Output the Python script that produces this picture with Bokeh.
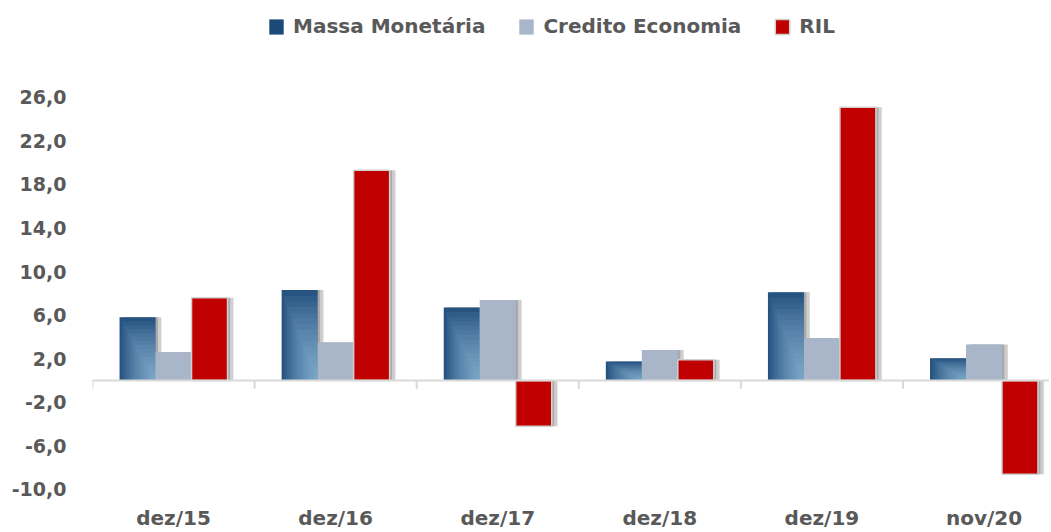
import numpy as np
from bokeh.plotting import figure
from bokeh.models import ColumnDataSource, FixedTicker, Span, Legend, LegendItem
from bokeh.embed import file_html
from bokeh.resources import INLINE

# ---- data ----
categories = ["dez/15", "dez/16", "dez/17", "dez/18", "dez/19", "nov/20"]
massa = [5.8, 8.3, 6.7, 1.75, 8.1, 2.05]
credito = [2.6, 3.5, 7.4, 2.8, 3.9, 3.3]
ril = [7.6, 19.3, -4.2, 1.9, 25.1, -8.6]
series_names = ["Massa Monetária", "Credito Economia", "RIL"]
y_ticks = [-10, -6, -2, 2, 6, 10, 14, 18, 22, 26]
y_tick_labels = ["-10,0", "-6,0", "-2,0", "2,0", "6,0", "10,0", "14,0", "18,0", "22,0", "26,0"]

# ---- style ----
FONT = "DejaVu Sans"
TXT = "#595959"
C_MASSA = "#1c4a78"
C_MASSA_LIGHT = "#a9d0f2"
C_CRED = "#a9b5c9"
C_RIL = "#c00000"
BW = 0.222

idx = np.arange(len(categories))
series = [massa, credito, ril]
offsets = [-BW, 0.0, BW]
colors = [C_MASSA, C_CRED, C_RIL]

p = figure(width=1049, height=532, x_range=(-0.5, 5.404), y_range=(-10.10, 34.89),
           output_backend="svg", toolbar_location=None,
           min_border_left=92, min_border_right=0, min_border_top=0, min_border_bottom=42)
p.outline_line_color = None
p.xgrid.visible = False
p.ygrid.visible = False
p.background_fill_color = "white"

# shadows
for vals, off in zip(series, offsets):
    v = np.array(vals, dtype=float)
    for so, sa in [(0.015, 0.45), (0.036, 0.38)]:
        src = ColumnDataSource(dict(x=idx + off + so, top=v, bottom=np.zeros_like(v)))
        p.vbar(x="x", top="top", bottom="bottom", width=BW, source=src,
               fill_color="#7f7f7f", fill_alpha=sa, line_color=None)

# bars
renderers = []
for name, vals, off, col in zip(series_names, series, offsets, colors):
    v = np.array(vals, dtype=float)
    src = ColumnDataSource(dict(x=idx + off, top=v, bottom=np.zeros_like(v), cat=categories))
    lc = "#d0d0d0" if col == C_RIL else None
    r = p.vbar(x="x", top="top", bottom="bottom", width=BW, source=src,
               fill_color=col, line_color=lc, line_width=1.5)
    renderers.append(r)

# gradient highlight for Massa Monetária (bottom-right lighter)
mv = np.array(massa, dtype=float)
N = 16
for k in range(1, N + 1):
    f = k / N
    src = ColumnDataSource(dict(x=idx + offsets[0] + BW / 2 * (1 - f), top=mv * f))
    p.vbar(x="x", top="top", bottom=0, width=BW * f, source=src,
           fill_color=C_MASSA_LIGHT, fill_alpha=0.07, line_color=None)

# zero line and category separators
p.add_layout(Span(location=0, dimension="width", line_color="#d9d9d9", line_width=2))
sep = ColumnDataSource(dict(x=idx - 0.5, y0=np.zeros(len(idx)), y1=np.full(len(idx), -0.75)))
p.segment(x0="x", y0="y0", x1="x", y1="y1", source=sep, line_color="#d9d9d9", line_width=2)

# axes
p.yaxis.ticker = FixedTicker(ticks=y_ticks)
p.yaxis.major_label_overrides = {t: l for t, l in zip(y_ticks, y_tick_labels)}
p.yaxis.axis_line_color = None
p.yaxis.major_tick_line_color = None
p.yaxis.minor_tick_line_color = None
p.yaxis.major_tick_out = 0
p.yaxis.major_label_standoff = 26
p.yaxis.major_label_text_font = FONT
p.yaxis.major_label_text_font_style = "bold"
p.yaxis.major_label_text_font_size = "19px"
p.yaxis.major_label_text_color = TXT

p.xaxis.ticker = FixedTicker(ticks=list(idx))
p.xaxis.major_label_overrides = {int(i): c for i, c in zip(idx, categories)}
p.xaxis.axis_line_color = None
p.xaxis.major_tick_line_color = None
p.xaxis.minor_tick_line_color = None
p.xaxis.major_tick_out = 0
p.xaxis.major_label_standoff = 15
p.xaxis.major_label_text_font = FONT
p.xaxis.major_label_text_font_style = "bold"
p.xaxis.major_label_text_font_size = "20px"
p.xaxis.major_label_text_color = TXT

legend = Legend(items=[LegendItem(label=n, renderers=[r]) for n, r in zip(series_names, renderers)],
                location=(175, 452), orientation="horizontal")
legend.background_fill_alpha = 0
legend.border_line_color = None
legend.label_text_font = FONT
legend.label_text_font_style = "bold"
legend.label_text_font_size = "20px"
legend.label_text_color = TXT
legend.glyph_width = 18
legend.glyph_height = 19
legend.label_standoff = 8
legend.spacing = 32
legend.margin = 0
legend.padding = 6
p.add_layout(legend)

open("out.html", "w").write(file_html(p, INLINE))
